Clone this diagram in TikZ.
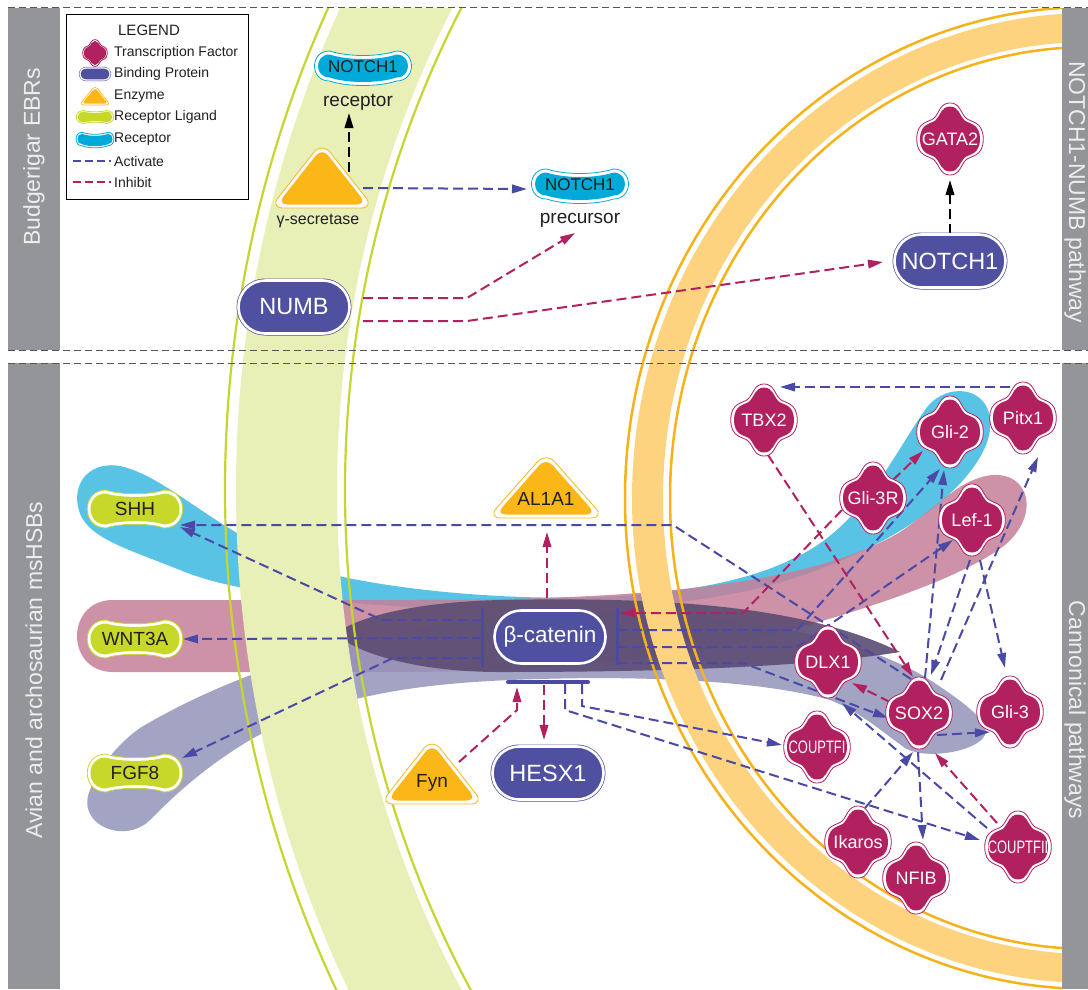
\documentclass[tikz,border=0pt]{standalone}
\usepackage{fontspec}
\setmainfont{Liberation Sans}
\usepackage{graphicx}
\usetikzlibrary{shapes.misc,arrows.meta}
\definecolor{greybar}{HTML}{939598}
\definecolor{bartxt}{HTML}{EDEDED}
\definecolor{tfc}{HTML}{B2215F}
\definecolor{bpc}{HTML}{5050A0}
\definecolor{enzc}{HTML}{FBB717}
\definecolor{ligc}{HTML}{C8D82B}
\definecolor{recc}{HTML}{00AAD8}
\definecolor{actc}{HTML}{4A4AA6}
\definecolor{inhc}{HTML}{B2215F}
\definecolor{txt}{HTML}{231F20}
\definecolor{memg}{HTML}{C5D72F}
\definecolor{memgfill}{HTML}{E8EFB7}
\definecolor{memo}{HTML}{F7B21A}
\definecolor{memofill}{HTML}{FDD37F}
\definecolor{bandblue}{HTML}{58C3E4}
\definecolor{bandpink}{HTML}{C58098}
\definecolor{bandpurp}{HTML}{9393BA}
\definecolor{banddark}{HTML}{5C4C72}
\definecolor{sepc}{HTML}{555555}
\pgfdeclarelayer{bg}
\pgfdeclarelayer{mid}
\pgfsetlayers{bg,mid,main}
\tikzset{
  arr/.style={line width=2pt, dash pattern=on 10pt off 5pt, -{Triangle[length=15pt,width=8.5pt]}},
  act/.style={arr, draw=actc},
  inh/.style={arr, draw=inhc},
  blk/.style={arr, draw=black},
  tfn/.style={circle, minimum size=64pt, inner sep=0pt, text=white, font=\fontsize{18}{20}\selectfont},
  bp/.style={rounded rectangle, fill=bpc, draw=bpc, double=white, double distance=2.6pt, line width=0.7pt, minimum width=111pt, minimum height=53pt, inner sep=0pt, text=white, font=\fontsize{23.5}{25}\selectfont},
  bpsmall/.style={rounded rectangle, fill=bpc, draw=bpc, double=white, double distance=1.2pt, line width=0.5pt, minimum width=30pt, minimum height=12pt, inner sep=0pt},
  dtxt/.style={inner sep=0pt, text=txt, font=\fontsize{19}{21}\selectfont},
  lab/.style={inner sep=0pt, text=txt, font=\fontsize{19}{21}\selectfont},
  legi/.style={anchor=west, inner sep=0pt, text=txt, font=\fontsize{14}{16}\selectfont},
  bartext/.style={inner sep=0pt, text=bartxt, font=\fontsize{23}{25}\selectfont},
  sepline/.style={draw=sepc, line width=0.9pt, dash pattern=on 7pt off 4pt},
  pics/tf/.style={code={
    \path[fill=white,draw=tfc,line width=0.8pt,xscale=0.95*#1,yscale=1.03*#1] (0,-1) .. controls (0.3,-1) and (0.32,-0.72) .. (0.48,-0.58) .. controls (0.62,-0.46) and (1,-0.5) .. (1,0) .. controls (1,0.5) and (0.62,0.46) .. (0.48,0.58) .. controls (0.32,0.72) and (0.3,1) .. (0,1) .. controls (-0.3,1) and (-0.32,0.72) .. (-0.48,0.58) .. controls (-0.62,0.46) and (-1,0.5) .. (-1,0) .. controls (-1,-0.5) and (-0.62,-0.46) .. (-0.48,-0.58) .. controls (-0.32,-0.72) and (-0.3,-1) .. (0,-1) -- cycle;
    \path[fill=tfc,xscale=0.95*0.9*#1,yscale=1.03*0.9*#1] (0,-1) .. controls (0.3,-1) and (0.32,-0.72) .. (0.48,-0.58) .. controls (0.62,-0.46) and (1,-0.5) .. (1,0) .. controls (1,0.5) and (0.62,0.46) .. (0.48,0.58) .. controls (0.32,0.72) and (0.3,1) .. (0,1) .. controls (-0.3,1) and (-0.32,0.72) .. (-0.48,0.58) .. controls (-0.62,0.46) and (-1,0.5) .. (-1,0) .. controls (-1,-0.5) and (-0.62,-0.46) .. (-0.48,-0.58) .. controls (-0.32,-0.72) and (-0.3,-1) .. (0,-1) -- cycle;
  }},
  pics/lig/.style={code={
    \path[fill=white,draw=ligc,line width=0.8pt] (-29,-19) .. controls (-16,-14) and (16,-14) .. (29,-19) .. controls (54,-19) and (54,19) .. (29,19) .. controls (16,14) and (-16,14) .. (-29,19) .. controls (-54,19) and (-54,-19) .. (-29,-19) -- cycle;
    \path[fill=ligc] (-29,-15.5) .. controls (-16,-11) and (16,-11) .. (29,-15.5) .. controls (49.7,-15.5) and (49.7,15.5) .. (29,15.5) .. controls (16,11) and (-16,11) .. (-29,15.5) .. controls (-49.7,15.5) and (-49.7,-15.5) .. (-29,-15.5) -- cycle;
  }},
  pics/rec/.style={code={
    \path[fill=white,draw=recc,line width=0.8pt] (-33.5,-15) .. controls (-15,-9) and (15,-9) .. (33.5,-15) .. controls (53.5,-15) and (53.5,15) .. (33.5,15) .. controls (15,21) and (-15,21) .. (-33.5,15) .. controls (-53.5,15) and (-53.5,-15) .. (-33.5,-15) -- cycle;
    \path[fill=recc] (-33.5,-11.5) .. controls (-15,-5.5) and (15,-5.5) .. (33.5,-11.5) .. controls (48.8,-11.5) and (48.8,11.5) .. (33.5,11.5) .. controls (15,17.5) and (-15,17.5) .. (-33.5,11.5) .. controls (-48.8,11.5) and (-48.8,-11.5) .. (-33.5,-11.5) -- cycle;
  }},
  pics/enz/.style={code={
    \path[fill=white,draw=enzc,line width=0.8pt,rounded corners=13pt] (0,-38) -- (52,28) -- (-52,28) -- cycle;
    \path[fill=enzc,rounded corners=10pt] (0,-32.3) -- (44.8,24.5) -- (-44.8,24.5) -- cycle;
  }},
  pics/enzsmall/.style={code={
    \path[fill=white,draw=enzc,line width=0.6pt,rounded corners=4pt] (0,-10.5) -- (15.5,9) -- (-15.5,9) -- cycle;
    \path[fill=enzc,rounded corners=3pt] (0,-8.2) -- (13,7.6) -- (-13,7.6) -- cycle;
  }},
}
\newcommand\tfnode[4][]{\pic at (#3) {tf=35}; \node[tfn,#1] (#2) at (#3) {#4};}

\begin{document}
\begin{tikzpicture}[x=1pt,y=-1pt]
\useasboundingbox (0,0) rectangle (1088,989);

% ---------- background layer ----------
\begin{pgfonlayer}{bg}
\fill[white] (0,0) rectangle (1088,989);
\fill[greybar] (8,8) rectangle (60,350);
\fill[greybar] (8,363) rectangle (60,989);
\fill[greybar] (1062,8) rectangle (1088,350);
\fill[greybar] (1062,363) rectangle (1088,989);
% chromosome bands
\fill[bandblue] (120,466) .. controls (175,478) and (230,550) .. (343,577) .. controls (420,593) and (520,600) .. (600,597) .. controls (700,593) and (760,575) .. (790,560) .. controls (860,530) and (890,460) .. (925,410) .. controls (945,380) and (995,385) .. (990,430) .. controls (985,470) and (930,520) .. (860,552) .. controls (780,590) and (700,606) .. (560,610) .. controls (420,612) and (250,600) .. (180,570) .. controls (130,550) and (95,540) .. (82,518) .. controls (68,490) and (85,460) .. (120,466) -- cycle;
\fill[bandpink, opacity=0.85] (113,600) -- (400,600) .. controls (600,600) and (800,592) .. (900,532) .. controls (940,505) and (960,478) .. (993,475) .. controls (1030,473) and (1040,515) .. (1005,545) .. controls (960,580) and (850,615) .. (760,638) .. controls (650,665) and (500,672) .. (400,672) -- (113,672) .. controls (65,672) and (65,600) .. (113,600) -- cycle;
\fill[bandpurp, opacity=0.85] (140,728) .. controls (220,680) and (350,630) .. (520,615) .. controls (700,605) and (850,630) .. (930,680) .. controls (965,703) and (995,725) .. (983,738) .. controls (972,752) and (925,760) .. (905,748) .. controls (880,730) and (860,712) .. (830,700) .. controls (760,680) and (640,676) .. (540,679) .. controls (420,682) and (330,695) .. (250,740) .. controls (200,770) and (170,800) .. (150,820) .. controls (125,845) and (75,825) .. (90,790) .. controls (100,765) and (120,742) .. (140,728) -- cycle;
\fill[banddark, opacity=0.9] (335,634) .. controls (360,615) and (420,602) .. (500,600) .. controls (650,597) and (800,603) .. (900,652) .. controls (800,668) and (650,672) .. (500,672) .. controls (420,672) and (360,655) .. (335,634) -- cycle;
% membranes
\begin{scope}
\clip (60,8) rectangle (1062,989);
\fill[memgfill, even odd rule] (1400,490) circle [radius=1164] (1400,490) circle [radius=1063];
\draw[memg, line width=2.2pt] (1400,490) circle [radius=1175];
\draw[memg, line width=2.2pt] (1400,490) circle [radius=1055];
\fill[memofill, even odd rule] (1090,498) ellipse [x radius=458, y radius=485] (1090,498) ellipse [x radius=427, y radius=456];
\draw[memo, line width=2.5pt] (1090,498) ellipse [x radius=465, y radius=491];
\draw[memo, line width=2.5pt] (1090,498) ellipse [x radius=420, y radius=451];
\end{scope}
\end{pgfonlayer}

% ---------- side labels ----------
\node[bartext, rotate=90] (side1) at (34,157) {Budgerigar EBRs};
\node[bartext, rotate=90] (side2) at (34,670) {Avian and archosaurian msHSBs};
\node[bartext, rotate=-90] (side3) at (1075,192) {NOTCH1-NUMB pathway};
\node[bartext, rotate=-90] (side4) at (1075,710) {Cannonical pathways};

% ---------- legend ----------
\node[draw=black, line width=0.9pt, fill=white, minimum width=182pt, minimum height=185pt, anchor=north west, inner sep=0pt] (legend) at (66,14) {};
\node[inner sep=0pt, text=txt, font=\fontsize{15}{17}\selectfont] (lg0) at (149,30) {LEGEND};
\pic at (95,53) {tf=13};
\node[bpsmall] (lgbp) at (95,74) {};
\pic at (95,96) {enzsmall};
\pic[xscale=0.39,yscale=0.34] at (95,117) {lig};
\pic[xscale=0.39,yscale=0.45] at (95,139) {rec};
\node[legi] (lg1) at (114,53) {Transcription Factor};
\node[legi] (lg2) at (114,74) {Binding Protein};
\node[legi] (lg3) at (114,96) {Enzyme};
\node[legi] (lg4) at (114,117) {Receptor Ligand};
\node[legi] (lg5) at (114,139) {Receptor};
\node[legi] (lg6) at (114,161) {Activate};
\node[legi] (lg7) at (114,182) {Inhibit};
\draw[actc, line width=1.3pt, dash pattern=on 8pt off 4pt] ([shift={(7,147)}]legend.north west) -- ([shift={(-3,0)}]lg6.west);
\draw[inhc, line width=1.3pt, dash pattern=on 8pt off 4pt] ([shift={(7,168)}]legend.north west) -- ([shift={(-3,0)}]lg7.west);

% ---------- top panel nodes ----------
\pic at (363,66) {rec};
\node[dtxt, font=\fontsize{17}{19}\selectfont] (ntr) at (363,67) {NOTCH1};
\node[lab] (rlab) at (358,102) {receptor};
\pic at (322,180) {enz};
\node[inner sep=0pt, minimum size=2pt] (gsec) at (322,180) {};
\node[lab, font=\fontsize{16}{18}\selectfont] (glab) at (318,221) {γ-secretase};
\pic at (580,184) {rec};
\node[dtxt, font=\fontsize{17}{19}\selectfont] (ntp) at (580,185) {NOTCH1};
\node[lab] (plab) at (580,220) {precursor};
\node[bp] (numb) at (294,307) {NUMB};
\node[bp] (n1) at (950,261) {NOTCH1};
\tfnode{gata2}{950,139}{GATA2}

% ---------- bottom panel nodes ----------
\pic at (135,509) {lig};
\node[dtxt] (shh) at (135,509) {SHH};
\pic at (135,639) {lig};
\node[dtxt] (wnt) at (135,639) {WNT3A};
\pic at (135,773) {lig};
\node[dtxt] (fgf) at (135,773) {FGF8};
\pic[xscale=1.12] at (546,490) {enz};
\node[dtxt] (al) at (546,499) {AL1A1};
\pic at (432,776) {enz};
\node[dtxt] (fyn) at (432,783) {Fyn};
\node[bp, font=\fontsize{22.5}{24}\selectfont] (bcat) at (550,637) {β-catenin};
\node[bp] (hesx) at (548,773) {HESX1};
\coordinate (lb) at ([shift={(-68,0)}]bcat.center);
\coordinate (rb) at ([shift={(67,0)}]bcat.center);
\coordinate (bb) at ([shift={(-2,45)}]bcat.center);
\draw[actc, line width=3pt] ([shift={(0,-29)}]lb) -- ([shift={(0,30)}]lb);
\draw[actc, line width=3pt] ([shift={(0,-29)}]rb) -- ([shift={(0,28)}]rb);
\draw[actc, line width=4pt, line cap=round] ([shift={(-40,0)}]bb) -- ([shift={(40,0)}]bb);

\tfnode{tbx2}{764,420}{TBX2}
\tfnode{gli2}{950,432}{Gli-2}
\tfnode{pitx1}{1023,418}{Pitx1}
\tfnode{gli3r}{873,498}{Gli-3R}
\tfnode{lef1}{972,520}{Lef-1}
\tfnode{dlx1}{828,662}{DLX1}
\tfnode{sox2}{919,713}{SOX2}
\tfnode{gli3}{1010,712}{Gli-3}
\tfnode{coupi}{817,747}{\scalebox{0.72}[1]{COUPTFI}}
\tfnode{ikaros}{858,842}{Ikaros}
\tfnode{nfib}{916,878}{NFIB}
\tfnode{coupii}{1018,847}{\scalebox{0.72}[1]{COUPTFII}}

% ---------- connectors ----------
\begin{pgfonlayer}{mid}
\draw[sepline] (8,7) -- (1088,7);
\draw[sepline] (8,350) -- (1088,350);
\draw[sepline] (8,363) -- (1088,363);
% top panel
\draw[blk] ([shift={(27,-8)}]gsec.center) -- ([shift={(-9,11)}]rlab.center);
\draw[act] ([shift={(41,8)}]gsec.center) -- ([shift={(-53,4)}]ntp.center);
\draw[inh] ([shift={(69,-9)}]numb.center) -- ++(104,0) -- ([shift={(-5,13)}]plab.center);
\draw[inh] ([shift={(69,14)}]numb.center) -- ++(104,0) -- ([shift={(-67,1)}]n1.center);
\draw[blk] (n1.north) -- ([shift={(0,41)}]gata2.center);
% left of beta-catenin
\draw[act] ([shift={(0,-17)}]lb) -- ++(-100,0) -- ([shift={(45,18)}]shh.center);
\draw[act] ([shift={(0,1)}]lb) -- ([shift={(48,0)}]wnt.center);
\draw[act] ([shift={(0,21)}]lb) -- ++(-89,0) -- ([shift={(47,-15)}]fgf.center);
\draw[act] ([shift={(-8,-34)}]sox2.center) -- ++(-238,-154) -- ([shift={(45,16)}]shh.center);
% right of beta-catenin
\draw[inh] ([shift={(-31,12)}]gli3r.center) -- ++(-99,103) -- ([shift={(3,-24)}]rb);
\draw[inh] ([shift={(20,-18)}]gli3r.center) -- ([shift={(-27,19)}]gli2.center);
\draw[act] ([shift={(0,-7)}]rb) -- ++(180,0) -- ([shift={(-10,37)}]gli2.center);
\draw[act] ([shift={(0,10)}]rb) -- ++(180,0) -- ([shift={(-19,20)}]lef1.center);
\draw[act] ([shift={(0,26)}]rb) -- ++(126,0) -- ([shift={(-31,5)}]sox2.center);
% below beta-catenin
\draw[act] ([shift={(34,2)}]bb) -- ++(0,22) -- ([shift={(-35,-2)}]coupi.center);
\draw[act] ([shift={(17,2)}]bb) -- ++(0,26) -- ([shift={(-38,-7)}]coupii.center);
\draw[inh] ([shift={(27,-21)}]fyn.center) -- ++(58,-52) -- ([shift={(-31,5)}]bb);
\draw[inh] ([shift={(-4,3)}]bb) -- ([shift={(-4,-33)}]hesx.center);
\draw[inh] ([shift={(-3,-39)}]bcat.center) -- ([shift={(1,33)}]al.center);
% network
\draw[act] ([shift={(-13,-31)}]pitx1.center) -- ([shift={(16,-33)}]tbx2.center);
\draw[inh] ([shift={(4,35)}]tbx2.center) -- ([shift={(-6,-36)}]sox2.center);
\draw[inh] ([shift={(-29,-11)}]sox2.center) -- ([shift={(24,21)}]dlx1.center);
\draw[act] ([shift={(18,22)}]sox2.center) -- ([shift={(-20,20)}]gli3.center);
\draw[act] ([shift={(6,-35)}]sox2.center) -- ([shift={(-6,38)}]gli2.center);
\draw[act] ([shift={(-2,40)}]lef1.center) -- ([shift={(12,-38)}]sox2.center);
\draw[act] ([shift={(22,-33)}]sox2.center) -- ([shift={(15,39)}]pitx1.center);
\draw[act] ([shift={(8,40)}]lef1.center) -- ([shift={(-5,-44)}]gli3.center);
\draw[act] ([shift={(-1,39)}]sox2.center) -- ([shift={(7,-38)}]nfib.center);
\draw[act] ([shift={(7,-34)}]ikaros.center) -- ([shift={(-6,39)}]sox2.center);
\draw[inh] ([shift={(-21,-24)}]coupii.center) -- ([shift={(16,40)}]sox2.center);
\draw[act] ([shift={(-31,-19)}]coupii.center) -- ([shift={(14,41)}]dlx1.center);
\end{pgfonlayer}
\end{tikzpicture}
\end{document}
